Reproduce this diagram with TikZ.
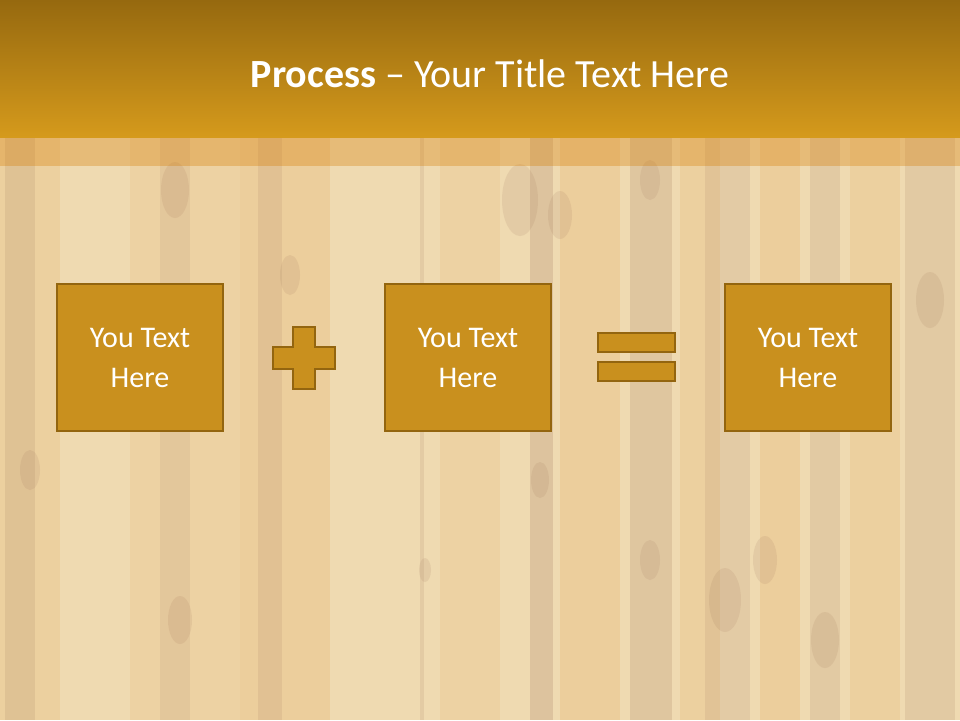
\documentclass[tikz,border=0pt]{standalone}
\usepackage{fontspec}
\setmainfont{Carlito}
\begin{document}
\begin{tikzpicture}[x=1pt,y=-1pt]
\definecolor{hdrtop}{HTML}{96690F}
\definecolor{hdrbot}{HTML}{D59A1C}
\definecolor{bgbase}{HTML}{EBD19E}
\definecolor{streak}{HTML}{8A5634}
\definecolor{warm}{HTML}{E2A24A}
\definecolor{boxfill}{HTML}{C9901E}
\definecolor{boxline}{HTML}{93650F}
\tikzset{
  procbox/.style={draw=boxline, line width=2.5pt, fill=boxfill, minimum width=166pt, minimum height=147pt,
    inner sep=0pt, text=white, font=\fontsize{30}{40}\selectfont, align=center},
  sym/.style={draw=boxline, line width=2.5pt, fill=boxfill}
}
\useasboundingbox (0,0) rectangle (960,720);
% background
\fill[bgbase] (0,0) rectangle (960,720);
% warm orange patches
\foreach \xa/\xb/\op in {0/60/0.25, 130/240/0.2, 240/330/0.3, 440/500/0.2, 560/620/0.3, 680/720/0.25, 760/800/0.3, 850/900/0.25}
  \fill[warm, opacity=\op] (\xa,137) rectangle (\xb,720);
% dark streaks
\foreach \xa/\xb/\op in {5/35/0.16, 160/190/0.12, 258/282/0.14, 420/424/0.15, 530/553/0.22, 630/672/0.2, 705/750/0.14, 810/840/0.16, 905/955/0.16}
  \fill[streak, opacity=\op] (\xa,137) rectangle (\xb,720);
\foreach \cx/\cy/\r in {175/190/14, 290/275/10, 520/200/18, 560/215/12, 650/180/10, 725/600/16, 765/560/12, 825/640/14, 180/620/12, 425/570/6, 930/300/14, 30/470/10, 650/560/10, 540/480/9}
  \fill[streak, opacity=0.14] (\cx,\cy) ellipse ({\r} and {\r*2});
% light overlay on lower area
\fill[white, opacity=0.2] (0,166) rectangle (960,720);
% band under header
\fill[warm, opacity=0.45] (0,137) rectangle (960,166);
% header
\shade[top color=hdrtop, bottom color=hdrbot] (0,0) rectangle (960,137);
\node[text=white, font=\fontsize{40}{48}\selectfont, anchor=base] (title) at (490,87)
  {\textbf{Process} – Your Title Text Here};
% boxes
\node[procbox] (b1) at (140,357.5) {You Text\\Here};
\node[procbox] (b2) at (468,357.5) {You Text\\Here};
\node[procbox] (b3) at (808,357.5) {You Text\\Here};
% plus
\draw[sym] (293,327) -- (315,327) -- (315,347) -- (335,347) -- (335,369) -- (315,369)
  -- (315,389) -- (293,389) -- (293,369) -- (273,369) -- (273,347) -- (293,347) -- cycle;
% equals
\draw[sym] (598,333) rectangle (675,352);
\draw[sym] (598,362) rectangle (675,381);
\end{tikzpicture}
\end{document}
